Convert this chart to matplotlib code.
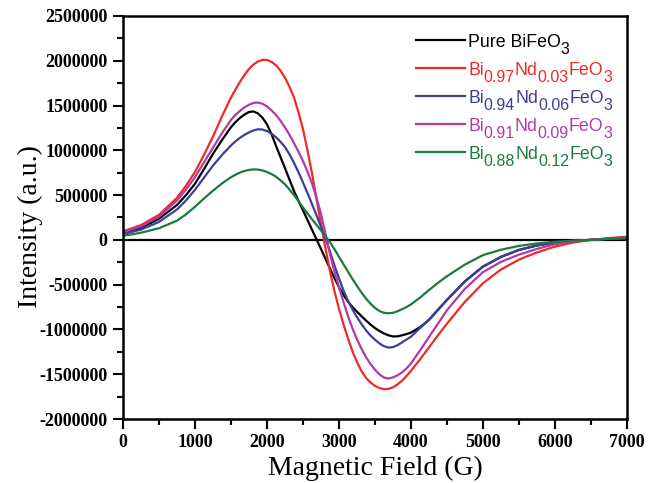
import matplotlib
matplotlib.use("Agg")
import matplotlib.pyplot as plt
from matplotlib.ticker import MultipleLocator, FuncFormatter
from matplotlib.transforms import offset_copy

# EPR spectra of Nd-doped BiFeO3 (intensity in units of 1000 a.u.)
field = [0, 250, 500, 750, 875, 1000, 1125, 1250, 1375, 1500, 1562.5, 1625,
         1687.5, 1750, 1812.5, 1875, 1937.5, 2000, 2062.5, 2125, 2187.5,
         2250, 2312.5, 2375, 2437.5, 2500, 2562.5, 2625, 2687.5, 2750,
         2812.5, 2875, 2937.5, 3000, 3062.5, 3125, 3187.5, 3250, 3312.5,
         3375, 3437.5, 3500, 3562.5, 3625, 3687.5, 3750, 3812.5, 3875,
         3937.5, 4000, 4125, 4250, 4375, 4500, 4750, 5000, 5250, 5500, 5750,
         6000, 6250, 6500, 6750, 7000]

pure_bfo = [75, 135, 235, 390, 500, 627, 790, 962, 1115, 1259, 1315, 1362,
            1400, 1428, 1434, 1412, 1363, 1290, 1180, 1050, 925,
            800, 672, 545, 435, 330, 222, 113, 5, -102,
            -212, -320, -428, -528, -615, -690, -750, -802, -852,
            -900, -945, -985, -1018, -1045, -1066, -1078, -1077, -1066,
            -1052, -1035, -975, -895, -780, -670, -462, -298, -190, -112, -62,
            -30, -10, 0, 12, 22]

nd_003 = [95, 165, 280, 470, 605, 757, 950, 1155, 1380, 1590, 1680, 1765,
          1842, 1910, 1958, 1992, 2010, 2010, 1988, 1950, 1890,
          1810, 1710, 1590, 1425, 1235, 1000, 740, 460, 175,
          -95, -350, -575, -770, -945, -1100, -1245, -1365, -1465,
          -1540, -1592, -1630, -1655, -1667, -1663, -1647, -1614, -1572,
          -1520, -1462, -1335, -1200, -1065, -935, -690, -484, -330, -220,
          -140, -75, -30, 0, 20, 35]

nd_006 = [65, 115, 200, 340, 440, 560, 695, 830, 948, 1055, 1100, 1140,
          1173, 1200, 1222, 1235, 1232, 1215, 1185, 1147, 1095,
          1036, 955, 860, 755, 640, 522, 400, 275, 148,
          12, -130, -285, -430, -565, -680, -778, -862, -940,
          -1010, -1068, -1115, -1157, -1187, -1203, -1198, -1175, -1145,
          -1113, -1080, -985, -890, -780, -670, -462, -298, -190, -112, -62,
          -30, -10, 0, 12, 22]

nd_009 = [85, 150, 260, 440, 562, 700, 865, 1030, 1192, 1340, 1395, 1442,
          1480, 1508, 1530, 1533, 1520, 1490, 1447, 1395, 1330,
          1255, 1172, 1080, 985, 880, 762, 630, 470, 290,
          70, -160, -355, -530, -695, -850, -990, -1110, -1215,
          -1310, -1385, -1450, -1502, -1537, -1548, -1535, -1512, -1480,
          -1435, -1380, -1235, -1085, -935, -785, -545, -360, -245, -165,
          -100, -48, -18, 0, 15, 28]

nd_012 = [45, 80, 130, 215, 285, 370, 462, 550, 630, 700, 728, 752,
          770, 781, 787, 785, 775, 758, 735, 705, 665,
          620, 562, 500, 432, 362, 295, 230, 168, 105,
          40, -28, -105, -190, -272, -355, -437, -515, -588,
          -655, -712, -760, -795, -814, -820, -814, -797, -775,
          -750, -720, -645, -560, -480, -405, -275, -170, -110, -67, -40,
          -20, -8, 0, 10, 18]

series = [pure_bfo, nd_003, nd_006, nd_009, nd_012]
# legend labels as (text, is_subscript) pieces
labels = [[("Pure BiFeO", False), ("3", True)],
          [("Bi", False), ("0.97", True), ("Nd", False), ("0.03", True),
           ("FeO", False), ("3", True)],
          [("Bi", False), ("0.94", True), ("Nd", False), ("0.06", True),
           ("FeO", False), ("3", True)],
          [("Bi", False), ("0.91", True), ("Nd", False), ("0.09", True),
           ("FeO", False), ("3", True)],
          [("Bi", False), ("0.88", True), ("Nd", False), ("0.12", True),
           ("FeO", False), ("3", True)]]
colors = ["#000000", "#EE2B25", "#3D3E98", "#B23AA6", "#1A7B3C"]

x_ticks = [0, 1000, 2000, 3000, 4000, 5000, 6000, 7000]
y_ticks = [-2000000, -1500000, -1000000, -500000, 0, 500000, 1000000,
           1500000, 2000000, 2500000]

plt.rcParams["axes.unicode_minus"] = False

fig = plt.figure(figsize=(6.56, 4.83), dpi=100)
ax = fig.add_axes([0.1875, 0.1325, 0.7683, 0.8344])

ax.axhline(0, color="black", lw=1.6, zorder=1)
for vals, col in zip(series, colors):
    ax.plot(field, [v * 1000 for v in vals], color=col, lw=1.6, zorder=2,
            solid_capstyle="round", solid_joinstyle="round")

ax.set_xlim(x_ticks[0], x_ticks[-1])
ax.set_ylim(y_ticks[0], y_ticks[-1])
ax.set_xticks(x_ticks)
ax.set_yticks(y_ticks)
ax.xaxis.set_minor_locator(MultipleLocator(500))
ax.yaxis.set_minor_locator(MultipleLocator(250000))
ax.yaxis.set_major_formatter(FuncFormatter(lambda v, p: f"{int(round(v))}"))
ax.xaxis.set_major_formatter(FuncFormatter(lambda v, p: f"{int(round(v))}"))

for s in ax.spines.values():
    s.set_linewidth(1.8)

ax.tick_params(axis="both", which="both", direction="out", top=False,
               right=False, width=1.5)
ax.tick_params(axis="both", which="major", length=7)
ax.tick_params(axis="both", which="minor", length=4)
ax.tick_params(axis="y", which="major", pad=4)
ax.tick_params(axis="x", which="major", pad=3.5)
for lab in ax.get_xticklabels() + ax.get_yticklabels():
    lab.set_fontfamily("Liberation Serif")
    lab.set_fontweight("bold")
    lab.set_fontsize(13)

fig.text(375 / 656, 1 - 475 / 483, "Magnetic Field (G)", ha="center",
         va="baseline", fontsize=20, family="Liberation Serif")
fig.text(30 / 656, 1 - 226.5 / 483, "Intensity (a.u.)", ha="center",
         va="center", rotation=90, fontsize=20, family="Liberation Serif")


# legend entries drawn in axes coordinates
def ax_x(px):
    return (px - 123) / 504


def ax_y(py):
    return (419 - py) / 403


fig.canvas.draw()
renderer = fig.canvas.get_renderer()

line_rows = [40, 68, 96, 124, 152]
for row, pieces, col in zip(line_rows, labels, colors):
    ax.plot([ax_x(416), ax_x(465)], [ax_y(row), ax_y(row)],
            transform=ax.transAxes, color=col, lw=1.6, clip_on=False)
    dx = 0.0
    for txt, sub in pieces:
        tr = offset_copy(ax.transAxes, fig=fig, x=dx, y=-6.5 if sub else 0,
                         units="dots")
        t = ax.text(ax_x(468), ax_y(row + 7.5), txt, transform=tr, color=col,
                    fontsize=11.5 if sub else 12.8, family="Liberation Sans",
                    ha="left", va="baseline")
        dx += t.get_window_extent(renderer).width

fig.savefig("out.png", dpi=100)
